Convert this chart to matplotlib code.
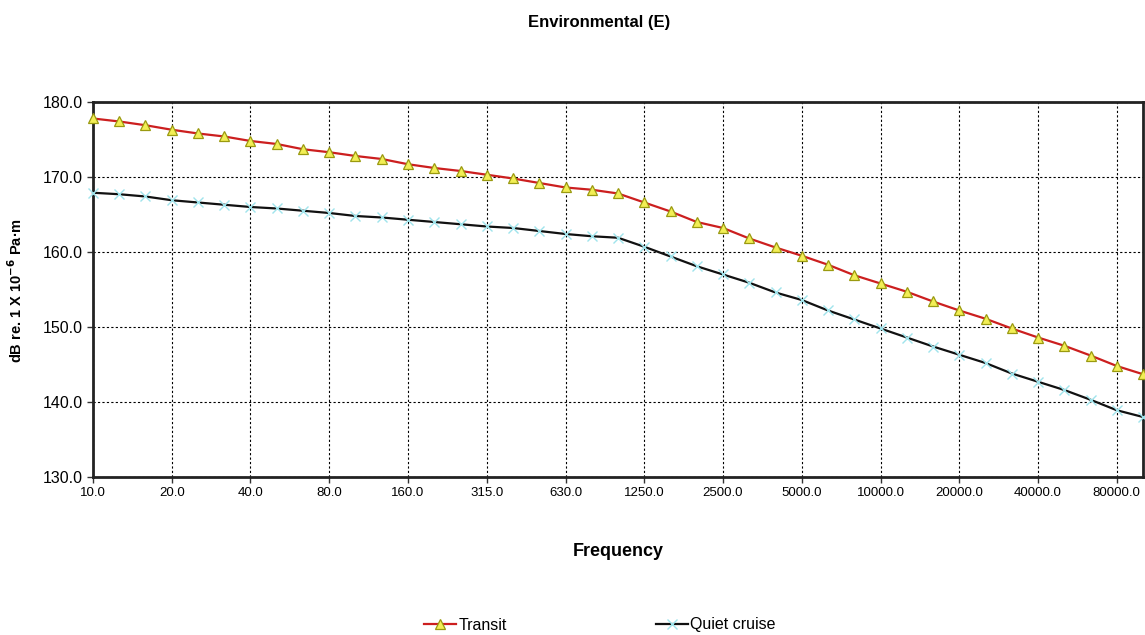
import matplotlib
matplotlib.use('Agg')
import matplotlib.pyplot as plt
import numpy as np

plt.rcParams['font.family'] = ['Liberation Sans', 'DejaVu Sans']

# third-octave band centre frequencies (Hz)
freqs = [10, 12.5, 16, 20, 25, 31.5, 40, 50, 63, 80, 100, 125, 160, 200, 250,
         315, 400, 500, 630, 800, 1000, 1250, 1600, 2000, 2500, 3150, 4000,
         5000, 6300, 8000, 10000, 12500, 16000, 20000, 25000, 31500, 40000,
         50000, 63000, 80000, 100000]

transit = [177.8, 177.4, 176.9, 176.3, 175.8, 175.4, 174.8, 174.4, 173.7, 173.3,
           172.8, 172.4, 171.7, 171.2, 170.8, 170.3, 169.8, 169.2, 168.6, 168.3,
           167.8, 166.6, 165.4, 164.0, 163.2, 161.8, 160.6, 159.5, 158.3, 156.9,
           155.8, 154.7, 153.4, 152.2, 151.1, 149.8, 148.6, 147.5, 146.2, 144.8,
           143.7]

quiet = [167.9, 167.7, 167.4, 166.9, 166.6, 166.3, 166.0, 165.8, 165.5, 165.2,
         164.8, 164.6, 164.3, 164.0, 163.7, 163.4, 163.2, 162.8, 162.4, 162.1,
         161.9, 160.7, 159.4, 158.1, 157.0, 155.9, 154.6, 153.6, 152.2, 151.0,
         149.8, 148.6, 147.4, 146.3, 145.2, 143.8, 142.7, 141.6, 140.3, 138.9,
         138.0]

yTicks = [130, 140, 150, 160, 170, 180]

x = np.arange(len(freqs))

fig = plt.figure(figsize=(11.45, 6.35), dpi=100)
ax = fig.add_axes([0.0812, 0.2488, 0.9171, 0.5906])

ax.plot(x, transit, color='#cc1f1f', lw=1.6, marker='^', markersize=7,
        markerfacecolor='#f2ee55', markeredgecolor='#9a9a10', markeredgewidth=0.9,
        label='Transit', clip_on=False, zorder=3)
ax.plot(x, quiet, color='#111111', lw=1.6, marker='x', markersize=7,
        markeredgecolor='#9fe4ec', markeredgewidth=1.0,
        label='Quiet cruise', clip_on=False, zorder=3)

ax.set_xlim(0, len(freqs) - 1)
ax.set_ylim(130, 180)
tickIdx = x[::3][:14]
ax.set_xticks(tickIdx)
ax.set_xticklabels(['%.1f' % freqs[i] for i in tickIdx], fontsize=9.5)
ax.set_yticks(yTicks)
ax.set_yticklabels(['%.1f' % v for v in yTicks], fontsize=11.5)
ax.tick_params(direction='out', length=4, width=1, color='#333333')

ax.grid(True, color='black', linestyle=(0, (2, 2)), linewidth=0.8)
ax.set_axisbelow(True)
for s in ax.spines.values():
    s.set_linewidth(2)
    s.set_color('#222222')

fig.text(599 / 1145, 1 - 22 / 635, 'Environmental (E)', ha='center', va='center',
         fontsize=12, fontweight='bold')
fig.text(618 / 1145, 1 - 552 / 635, 'Frequency', ha='center', va='center',
         fontsize=13, fontweight='bold')
fig.text(16 / 1145, 1 - 290 / 635, 'dB re. 1 X 10$^{\\mathbf{-6}}$ Pa·m', ha='center',
         va='center', rotation=90, fontsize=10.5, fontweight='bold')

fig.legend(loc='center', bbox_to_anchor=(600 / 1145, 1 - 625 / 635), ncol=2,
           frameon=False, fontsize=11.5, handlelength=2.0, columnspacing=9.3,
           handletextpad=0.15)

fig.savefig('out.png', dpi=100)
